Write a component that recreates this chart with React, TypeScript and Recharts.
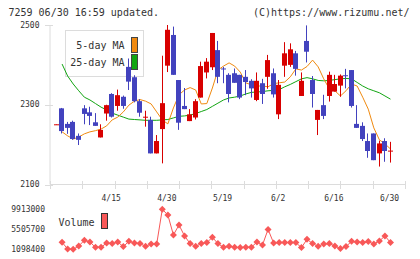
import React from "react";
import { ComposedChart, LineChart, Bar, Line, XAxis, YAxis, Customized } from "recharts";

// daily candles, oldest first
const OPEN = [2250, 2291, 2252, 2257, 2222, 2291, 2281, 2256, 2218, 2278, 2327, 2297, 2320, 2395, 2369, 2309, 2269, 2262, 2178, 2239, 2398, 2475, 2362, 2297, 2259, 2268, 2318, 2381, 2394, 2437, 2391, 2375, 2379, 2375, 2370, 2360, 2312, 2354, 2370, 2379, 2276, 2398, 2400, 2429, 2322, 2460, 2362, 2262, 2299, 2322, 2333, 2348, 2374, 2387, 2252, 2247, 2209, 2228, 2178, 2209, 2184];
const HIGH = [2251, 2292, 2257, 2260, 2228, 2299, 2295, 2279, 2251, 2300, 2329, 2338, 2323, 2416, 2374, 2314, 2285, 2270, 2224, 2423, 2500, 2496, 2362, 2342, 2289, 2314, 2408, 2417, 2480, 2460, 2395, 2379, 2391, 2375, 2387, 2364, 2381, 2365, 2425, 2391, 2362, 2457, 2454, 2435, 2381, 2499, 2372, 2287, 2325, 2383, 2375, 2376, 2390, 2387, 2299, 2256, 2228, 2228, 2210, 2216, 2207];
const LOW = [2250, 2228, 2227, 2212, 2199, 2251, 2249, 2247, 2218, 2260, 2268, 2285, 2290, 2337, 2306, 2270, 2245, 2178, 2178, 2153, 2382, 2375, 2237, 2289, 2259, 2263, 2318, 2366, 2387, 2354, 2354, 2306, 2355, 2314, 2324, 2318, 2309, 2302, 2340, 2318, 2264, 2370, 2395, 2373, 2322, 2406, 2293, 2224, 2264, 2308, 2333, 2320, 2341, 2293, 2242, 2209, 2167, 2161, 2145, 2157, 2155];
const CLOSE = [2251, 2234, 2242, 2214, 2212, 2277, 2272, 2247, 2237, 2299, 2270, 2324, 2297, 2358, 2309, 2280, 2270, 2178, 2209, 2304, 2488, 2375, 2255, 2289, 2276, 2309, 2397, 2408, 2480, 2370, 2390, 2327, 2355, 2318, 2357, 2341, 2360, 2327, 2412, 2326, 2350, 2429, 2439, 2390, 2360, 2433, 2327, 2287, 2272, 2375, 2352, 2373, 2373, 2297, 2242, 2214, 2184, 2161, 2203, 2184, 2185];

const MA5 = [null, 2232, 2222, 2214, 2219, 2227, 2232, 2235, 2239, 2247, 2262, 2269, 2282, 2299, 2309, 2313, 2309, 2302, 2282, 2262, 2252, 2292, 2325, 2337, 2343, 2337, 2302, 2303, 2342, 2387, 2397, 2405, 2397, 2382, 2355, 2350, 2347, 2347, 2345, 2353, 2355, 2357, 2370, 2390, 2387, 2396, 2412, 2395, 2365, 2340, 2335, 2322, 2335, 2352, 2347, 2319, 2289, 2242, 2212, 2202, 2189];
const MA25 = [null, 2402, 2372, 2352, 2335, 2319, 2312, 2303, 2294, 2287, 2279, 2274, 2269, 2264, 2263, 2262, 2261, 2261, 2261, 2262, 2263, 2267, 2271, 2272, 2274, 2278, 2283, 2288, 2296, 2304, 2312, 2317, 2319, 2322, 2327, 2331, 2332, 2333, 2335, 2336, 2338, 2345, 2351, 2358, 2365, 2368, 2365, 2361, 2360, 2361, 2363, 2365, 2366, 2365, 2356, 2347, 2340, 2335, 2330, 2322, 2314];

const VOLUME = [null, 2640000, 1170000, 1098400, 1830000, 3080000, 2710000, 1540000, 1540000, 2490000, 2350000, 2710000, 1690000, 2860000, 2490000, 2350000, 1760000, 2270000, 2270000, 9913000, 8660000, 4260000, 6460000, 4040000, 2350000, 1760000, 2350000, 2570000, 3740000, 2350000, 1540000, 1760000, 1540000, 1470000, 1540000, 1540000, 2710000, 2050000, 5480000, 2490000, 2570000, 2570000, 2570000, 2570000, 1470000, 3300000, 2350000, 1760000, 2270000, 2350000, 1830000, 1250000, 1690000, 2860000, 2710000, 2570000, 2790000, 2270000, 2930000, 4040000, 2570000];

const DATE_TICKS = [10, 20, 30, 40, 50, 60];
const DATE_LABELS = ["4/15", "4/30", "5/19", "6/2", "6/16", "6/30"];

const PRICE_TICKS = [2100, 2300, 2500];
const VOLUME_TICKS = [1098400, 5505700, 9913000];

const data = OPEN.map((o, i) => ({
  i,
  o,
  h: HIGH[i],
  l: LOW[i],
  c: CLOSE[i],
  range: [LOW[i], HIGH[i]],
  ma5: MA5[i],
  ma25: MA25[i],
  v: VOLUME[i],
}));

const FONT = "'DejaVu Sans Mono', monospace";
const UP = "#d80000";
const DOWN = "#4242be";
const ORANGE = "#f08a10";
const GREEN = "#12a512";
const AXIS = "#dcdcdc";
const TEXT = "#333";
const VOL = "#f85858";

const X_MIN = -1.17;
const X_MAX = 62.6;
// evenly spaced marks along the bottom axis
const GRID_TICKS = Array.from({ length: 12 }, (_, k) => X_MIN + (k * (X_MAX - X_MIN)) / 11);

const Candle = (props: any) => {
  const { x, y, width, height, payload } = props;
  if (x == null || y == null) return <g />;
  const { o, c, h, l } = payload;
  const k = h === l ? 0 : height / (h - l);
  const left = Math.round(x);
  const mid = left + Math.floor(width / 2) + 0.5;
  const top = y + (h - Math.max(o, c)) * k;
  const bottom = y + (h - Math.min(o, c)) * k;
  const color = c >= o ? UP : DOWN;
  return (
    <g>
      <line x1={mid} x2={mid} y1={y} y2={y + height} stroke={color} strokeWidth={1} />
      <rect x={left} y={top} width={width} height={Math.max(1, bottom - top)} fill={color} />
    </g>
  );
};

const XTick = (props: any) => {
  const { x, y, payload } = props;
  const idx = DATE_TICKS.indexOf(payload.value);
  if (idx >= 0) {
    return (
      <text x={x - 1} y={y + 16} textAnchor="middle" fontSize={8} fontFamily={FONT} fill={TEXT}>
        {DATE_LABELS[idx]}
      </text>
    );
  }
  const px = Math.round(x) + 0.5;
  return <line x1={px} x2={px} y1={y - 3.5} y2={y + 4.5} stroke={AXIS} strokeWidth={1} />;
};

const YTick = (props: any) => {
  const { x, y, payload } = props;
  const py = Math.round(y) + 0.5;
  return (
    <g>
      <line x1={x - 5} x2={x + 3} y1={py} y2={py} stroke={AXIS} strokeWidth={1} />
      <text x={x - 10.5} y={y + 2.6} textAnchor="end" fontSize={8} fontFamily={FONT} fill={TEXT}>
        {payload.value}
      </text>
    </g>
  );
};

const MaLegend = () => (
  <g>
    <rect x={65.5} y={30.5} width={78} height={46} fill="#fff" stroke={AXIS} strokeWidth={1} />
    <text x={124.5} y={48.8} textAnchor="end" fontSize={10} fontFamily={FONT} fill={TEXT}>
      5-day MA
    </text>
    <text x={124.5} y={66} textAnchor="end" fontSize={10} fontFamily={FONT} fill={TEXT}>
      25-day MA
    </text>
    <rect x={131.5} y={37.5} width={6} height={15} fill={ORANGE} stroke="#444" strokeWidth={1} />
    <rect x={131.5} y={54.5} width={6} height={15} fill={GREEN} stroke="#444" strokeWidth={1} />
  </g>
);

const Diamond = (props: any) => {
  const { cx, cy, index } = props;
  if (cx == null || cy == null || data[index].v == null) return <g key={index} />;
  return (
    <polygon
      key={index}
      points={`${cx},${cy - 3.5} ${cx + 3.5},${cy} ${cx},${cy + 3.5} ${cx - 3.5},${cy}`}
      fill={VOL}
    />
  );
};

export default function App() {
  return (
    <div style={{ position: "absolute", left: 0, top: 0, width: 420, height: 259, background: "#fff" }}>
      <div style={{ position: "absolute", left: 0, top: 0 }}>
        <ComposedChart width={420} height={205} data={data} margin={{ top: 25, right: 15, bottom: 0, left: 0 }}>
          <XAxis
            dataKey="i"
            type="number"
            domain={[X_MIN, X_MAX]}
            allowDataOverflow
            ticks={[...GRID_TICKS, ...DATE_TICKS]}
            interval={0}
            tick={<XTick />}
            tickLine={false}
            tickSize={0}
            tickMargin={0}
            height={20.5}
            axisLine={{ stroke: AXIS }}
          />
          <YAxis
            type="number"
            domain={[2100, 2500]}
            allowDataOverflow
            ticks={PRICE_TICKS}
            interval={0}
            width={50}
            tick={<YTick />}
            tickLine={false}
            tickSize={0}
            tickMargin={0}
            axisLine={{ stroke: AXIS }}
          />
          <Line dataKey="ma25" stroke={GREEN} strokeWidth={1} dot={false} isAnimationActive={false} zIndex={100} />
          <Line dataKey="ma5" stroke={ORANGE} strokeWidth={1} dot={false} isAnimationActive={false} zIndex={110} />
          <Customized component={MaLegend} />
          <Bar dataKey="range" barSize={5} shape={<Candle />} isAnimationActive={false} zIndex={300} />
        </ComposedChart>
      </div>
      <div style={{ position: "absolute", left: 0, top: 195 }}>
        <LineChart width={420} height={64} data={data} margin={{ top: 14.3, right: 15, bottom: 9.7, left: 0 }}>
          <XAxis dataKey="i" type="number" domain={[X_MIN, X_MAX]} allowDataOverflow hide />
          <YAxis
            type="number"
            domain={[1098400, 9913000]}
            ticks={VOLUME_TICKS}
            interval={0}
            width={50}
            axisLine={false}
            tickLine={false}
            tickSize={0}
            tickMargin={5}
            tick={{ fontSize: 8, fontFamily: FONT, fill: TEXT }}
          />
          <Line dataKey="v" stroke={VOL} strokeWidth={1} dot={<Diamond />} isAnimationActive={false} />
        </LineChart>
      </div>
      <svg width={420} height={259} style={{ position: "absolute", left: 0, top: 0, pointerEvents: "none" }}>
        <text x={8.5} y={16} fontSize={10} fontFamily={FONT} fill={TEXT}>
          7259 06/30 16:59 updated.
        </text>
        <text x={409.5} y={16} textAnchor="end" fontSize={10} fontFamily={FONT} fill={TEXT}>
          (C)https://www.rizumu.net/
        </text>
        <text x={58.5} y={226} fontSize={10} fontFamily={FONT} fill={TEXT}>
          Volume
        </text>
        <rect x={101.5} y={213.5} width={6} height={15} fill={VOL} stroke="#333" strokeWidth={1} />
      </svg>
    </div>
  );
}
